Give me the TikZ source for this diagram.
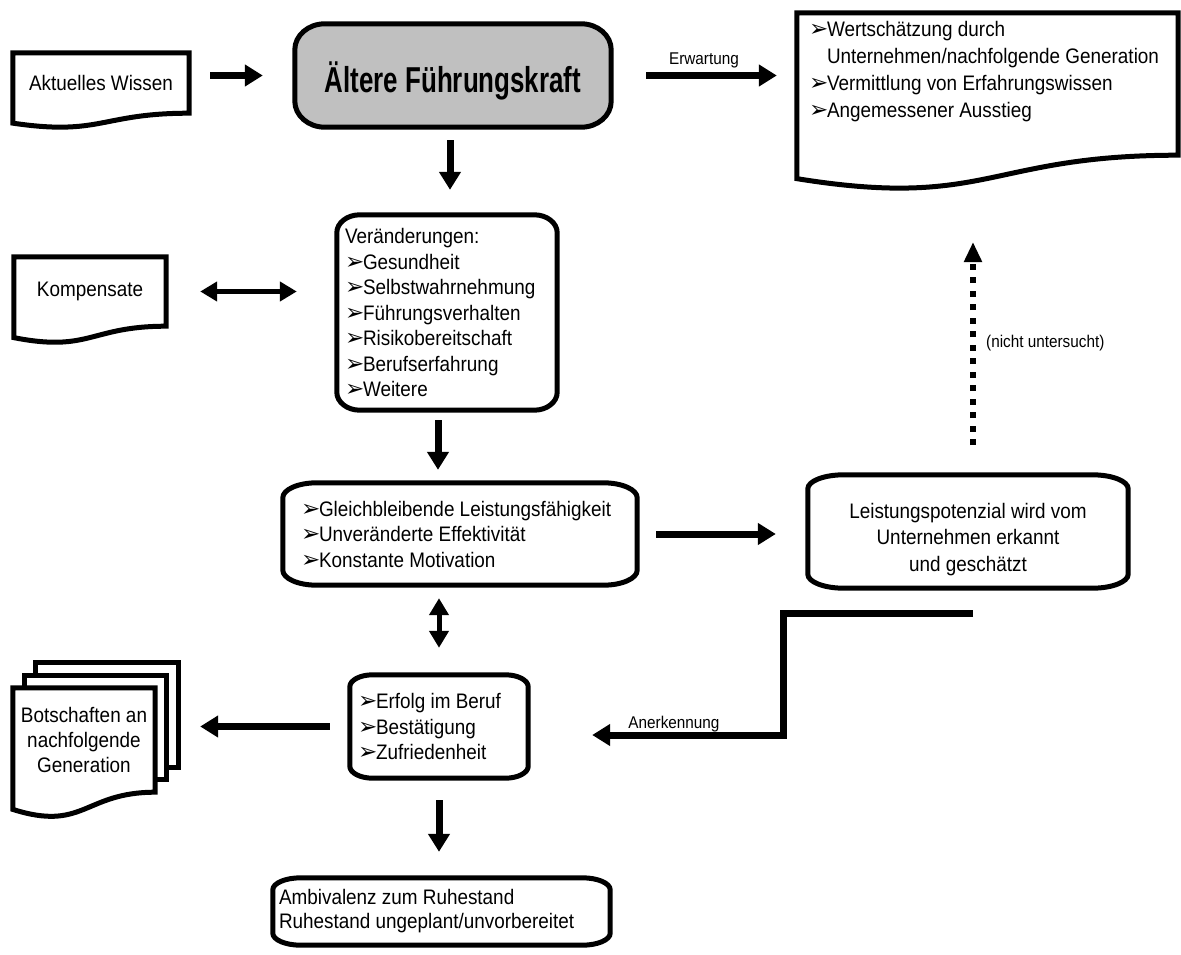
\documentclass[tikz,border=0pt]{standalone}
\usepackage{fontspec}
\setmainfont{Liberation Sans}[FakeStretch=0.9]
\newfontfamily\titlefont{Liberation Sans}[FakeStretch=0.72]
\newfontfamily\symfont{DejaVu Sans}
\usetikzlibrary{arrows.meta,calc,backgrounds}
\definecolor{boxgray}{RGB}{192,192,192}

% list bullet
\newcommand\bp{\makebox[18pt][l]{\symfont\fontsize{23}{23}\selectfont ➢}}

% process box with elliptic corners: [options]{node}{x radius}{y radius}
\newcommand\altframe[4][]{%
  \path[frame,#1] ([xshift=#3]#2.north west) -- ([xshift=-#3]#2.north east)
    arc[start angle=90,end angle=0,x radius=#3,y radius=#4]
    -- ([yshift=#4]#2.south east)
    arc[start angle=0,end angle=-90,x radius=#3,y radius=#4]
    -- ([xshift=#3]#2.south west)
    arc[start angle=270,end angle=180,x radius=#3,y radius=#4]
    -- ([yshift=-#4]#2.north west)
    arc[start angle=180,end angle=90,x radius=#3,y radius=#4] -- cycle;}

% document shape: the node box is the straight part, the wave hangs below
\newcommand\docframe[2][]{%
  \path[frame,#1] (#2.north west) -- (#2.north east) -- (#2.south east)
    .. controls (#2.south) and ($(#2.north)!1.381!(#2.south)$)
    .. ($(#2.north west)!1.1646!(#2.south west)$) -- cycle;}

\begin{document}
\begin{tikzpicture}[x=1pt,y=1pt,
  frame/.style={draw=black,line width=5pt,fill=white},
  txt/.style={inner sep=0pt,font=\fontsize{21}{25.5}\selectfont},
  lbl/.style={inner sep=0pt,font=\fontsize{17}{19}\selectfont},
  flow/.style={line width=7pt,-{Triangle[length=18pt,width=21pt]}},
  both/.style={line width=5pt,{Triangle[length=17pt,width=19pt]}-{Triangle[length=17pt,width=19pt]}},
  dotflow/.style={line width=6pt,dash pattern=on 6pt off 7.5pt,-{Triangle[length=20pt,width=17pt]}}]
\useasboundingbox (0,0) rectangle (1181,-955);

% nodes
\node[txt,minimum width=176pt,minimum height=60pt] (ak) at (101,-83) {Aktuelles Wissen};
\node[inner sep=0pt,minimum width=316pt,minimum height=103pt,text height=34pt,text depth=0pt,
      font=\titlefont\bfseries\fontsize{36}{40}\selectfont] (title) at (453,-75.5) {Ältere Führungskraft};
\node[inner xsep=12pt,inner ysep=6pt] (erw) at (987.5,-84)
  {\parbox[c][130pt][t]{357pt}{\fontsize{21}{27}\selectfont\vspace*{2pt}
   \bp Wertschätzung durch\\
   \hspace*{18pt}Unternehmen/nachfolgende Generation\\
   \bp Vermittlung von Erfahrungswissen\\
   \bp Angemessener Ausstieg}};
\node[txt,minimum width=152pt,minimum height=69pt] (komp) at (90,-291.5) {Kompensate};
\node[txt,minimum height=195pt,text width=204pt,inner xsep=8pt,align=flush left] (ver) at (447,-312.5)
  {Veränderungen:\\ \bp Gesundheit\\ \bp Selbstwahrnehmung\\ \bp Führungsverhalten\\
   \bp Risikobereitschaft\\ \bp Berufserfahrung\\ \bp Weitere};
\node[txt,minimum height=102pt,text width=318pt,inner xsep=18pt,align=flush left] (gb) at (460,-534)
  {\bp Gleichbleibende Leistungsfähigkeit\\ \bp Unveränderte Effektivität\\ \bp Konstante Motivation};
\node[inner sep=6pt] (lp) at (968,-531.5)
  {\parbox[c][101pt][c]{308pt}{\centering\fontsize{21}{26.5}\selectfont\vspace*{16pt}%
   Leistungspotenzial wird vom\\Unternehmen erkannt\\und geschätzt}};
\node[txt,minimum width=142pt,minimum height=104pt,align=flush center,font=\fontsize{21}{25}\selectfont] (bot) at (84,-740)
  {Botschaften an\\nachfolgende\\Generation};
\node[txt,minimum height=103pt,text width=162pt,inner xsep=8pt,align=flush left] (erf) at (439,-726.5)
  {\bp Erfolg im Beruf\\ \bp Bestätigung\\ \bp Zufriedenheit};
\node[txt,minimum height=67pt,text width=325pt,inner xsep=6pt,align=flush left,font=\fontsize{21}{24}\selectfont] (amb) at (441.5,-911.5)
  {Ambivalenz zum Ruhestand\\Ruhestand ungeplant/unvorbereitet};

% outlines behind the texts
\begin{pgfonlayer}{background}
  \docframe{ak}
  \altframe[fill=boxgray]{title}{30pt}{26pt}
  \docframe{erw}
  \docframe{komp}
  \altframe{ver}{23pt}{18pt}
  \altframe{gb}{34pt}{15pt}
  \altframe{lp}{36pt}{14pt}
  \path[frame] ([shift={(23pt,25pt)}]bot.north west) rectangle ([shift={(23pt,25pt)}]bot.south east);
  \path[frame] ([shift={(11.5pt,12.5pt)}]bot.north west) rectangle ([shift={(11.5pt,12.5pt)}]bot.south east);
  \docframe{bot}
  \altframe{erf}{23pt}{12pt}
  \altframe{amb}{28pt}{12pt}
\end{pgfonlayer}

% connectors
\draw[flow,shorten <=21pt,shorten >=32pt] (ak.east |- title.west) -- (title.west);
\draw[flow,shorten <=35pt,shorten >=20pt] (title.east) -- (title.east -| erw.west)
  node[lbl,midway,anchor=base,yshift=10.5pt] (erwlabel) {Erwartung};
\draw[flow,shorten <=13pt,shorten >=25pt] ([xshift=-3pt]title.south) -- ([xshift=-3pt]title.south |- ver.north);
\draw[both,shorten <=34pt,shorten >=40pt] (komp.east) -- (komp.east -| ver.west);
\draw[flow,shorten <=10pt,shorten >=13pt] ([xshift=-9pt]ver.south) -- ([xshift=-9pt]ver.south |- gb.north);
\draw[flow,shorten <=19pt,shorten >=32pt] (gb.east) -- (gb.east -| lp.west);
\draw[both,shorten <=13pt,shorten >=27pt] (gb.south -| erf.north) -- (erf.north);
\draw[flow,shorten <=20pt,shorten >=45pt] (erf.west) -- (erf.west -| bot.east);
\draw[flow,shorten <=22pt,shorten >=26pt] (erf.south) -- (erf.south |- amb.north);

% recognition feedback
\coordinate (stepS) at (973,-613);
\draw[flow,shorten >=64pt] (stepS) -- ++(-190,0) |- ([yshift=-8.5pt]erf.east);
\node[lbl,anchor=base] (anlabel) at (674,-728) {Anerkennung};

% not examined link
\coordinate (dotS) at (973,-445);
\coordinate (dotE) at (973,-242);
\draw[dotflow] (dotS) -- (dotE);
\node[lbl,anchor=base west] (nulabel) at (986,-347) {(nicht untersucht)};
\end{tikzpicture}
\end{document}
